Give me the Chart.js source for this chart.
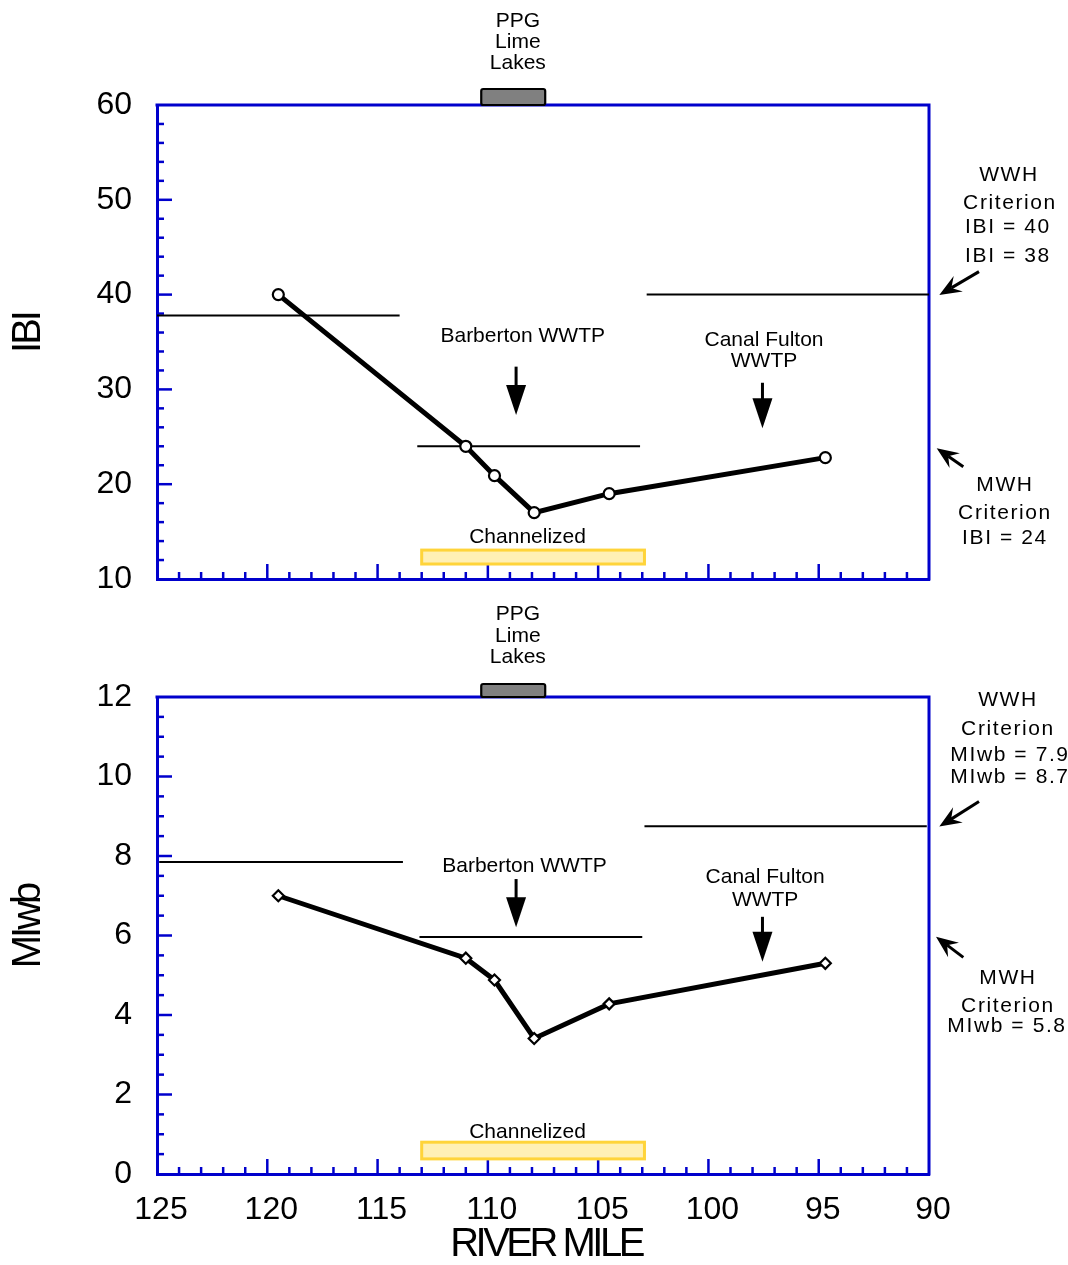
<!DOCTYPE html>
<html><head><meta charset="utf-8">
<script src="https://cdn.jsdelivr.net/npm/chart.js@4.4.1/dist/chart.umd.min.js"></script>
<style>
html,body{margin:0;padding:0;background:#fff;}
#wrap{position:relative;width:1068px;height:1265px;background:#fff;}
canvas{position:absolute;left:0;}
#c1{top:0;}
#c2{top:600px;}
</style></head><body>
<div id="wrap"><canvas id="c1" width="1068" height="600"></canvas><canvas id="c2" width="1068" height="665"></canvas></div>
<script>
// ---------- data ----------
const riverMile = [119.5, 111.0, 109.7, 107.9, 104.5, 94.7];
const ibiValues = [40, 24, 20.9, 17, 19, 22.8];
const miwbValues = [7.0, 5.43, 4.88, 3.41, 4.28, 5.3];
const xTickValues = [125, 120, 115, 110, 105, 100, 95, 90];
const ibiTickValues = [10, 20, 30, 40, 50, 60];
const miwbTickValues = [0, 2, 4, 6, 8, 10, 12];
// criterion segments: [start mile, end mile, value]
const ibiWwhUpstream = [125, 114.0, 37.8];
const ibiMwh = [113.2, 103.1, 24];
const ibiWwhDownstream = [102.8, 90, 40];
const miwbWwhUpstream = [124.9, 113.85, 7.85];
const miwbMwh = [113.1, 103.0, 5.96];
const miwbWwhDownstream = [102.9, 90.1, 8.75];
const channelizedReach = [113.0, 102.9];
const ppgLimeLakesReach = [110.3, 107.4];
const barbertonMile = 108.72;
const canalFultonMile = 97.55;

const BLUE = '#0000CC';
const FAMILY = '"Liberation Sans", Arial, Helvetica, sans-serif';

// ---------- plugins ----------
const titleSpacing = {
  id: 'titleSpacing',
  beforeDraw(chart, args, o) {
    Object.values(chart.scales).forEach(s => {
      if (s._tsWrapped) return;
      s._tsWrapped = true;
      const orig = s.drawTitle.bind(s);
      const cfg = (o && o[s.id]) || {spacing: 0, shift: 0};
      s.drawTitle = function () {
        const ctx = this.ctx;
        ctx.save();
        ctx.letterSpacing = cfg.spacing + 'px';
        if (this.isHorizontal()) ctx.translate(cfg.shift, 0); else ctx.translate(0, cfg.shift);
        orig();
        ctx.restore();
      };
    });
  }
};

const axisFrame = {
  id: 'axisFrame',
  beforeDatasetsDraw(chart, args, o) {
    const {ctx, chartArea: a, scales: {x, y}} = chart;
    ctx.save();
    ctx.strokeStyle = BLUE;
    ctx.lineWidth = 3;
    ctx.beginPath();
    ctx.moveTo(a.left - 1.5, a.top);
    ctx.lineTo(a.right, a.top);
    ctx.lineTo(a.right, a.bottom + 1.5);
    ctx.stroke();
    ctx.lineWidth = 2.5;
    const nx = Math.round((x.max - x.min) / o.xMinor);
    for (let i = 1; i < nx; i++) {
      const v = x.min + i * o.xMinor;
      const major = Math.abs(v / o.xMajor - Math.round(v / o.xMajor)) < 1e-6;
      const p = x.getPixelForValue(v);
      ctx.beginPath();
      ctx.moveTo(p, a.bottom);
      ctx.lineTo(p, a.bottom - (major ? 15 : 7));
      ctx.stroke();
    }
    const ny = Math.round((y.max - y.min) / o.yMinor);
    for (let i = 1; i < ny; i++) {
      const v = y.min + i * o.yMinor;
      const major = Math.abs(v / o.yMajor - Math.round(v / o.yMajor)) < 1e-6;
      const p = y.getPixelForValue(v);
      ctx.beginPath();
      ctx.moveTo(a.left, p);
      ctx.lineTo(a.left + (major ? 15 : 7), p);
      ctx.stroke();
    }
    ctx.restore();
  }
};

function drawStealth(ctx, x1, y1, x2, y2) {
  const dx = x2 - x1, dy = y2 - y1, L = Math.hypot(dx, dy);
  const ux = dx / L, uy = dy / L, nxp = -uy, nyp = ux;
  const hl = 22, hw = 9, notch = 14;
  ctx.beginPath();
  ctx.moveTo(x1, y1);
  ctx.lineTo(x2 - ux * notch, y2 - uy * notch);
  ctx.lineWidth = 3;
  ctx.stroke();
  ctx.beginPath();
  ctx.moveTo(x2, y2);
  ctx.lineTo(x2 - ux * hl + nxp * hw, y2 - uy * hl + nyp * hw);
  ctx.lineTo(x2 - ux * notch, y2 - uy * notch);
  ctx.lineTo(x2 - ux * hl - nxp * hw, y2 - uy * hl - nyp * hw);
  ctx.closePath();
  ctx.fill();
}

function drawDownArrow(ctx, x, yTop, yTip) {
  const head = 30, hw = 10;
  ctx.beginPath();
  ctx.moveTo(x, yTop);
  ctx.lineTo(x, yTip - head + 2);
  ctx.lineWidth = 3;
  ctx.stroke();
  ctx.beginPath();
  ctx.moveTo(x - hw, yTip - head);
  ctx.lineTo(x + hw, yTip - head);
  ctx.lineTo(x, yTip);
  ctx.closePath();
  ctx.fill();
}

const annot = {
  id: 'annot',
  beforeDatasetsDraw(chart, args, o) {
    const {ctx, chartArea: a} = chart;
    const X = v => chart.scales.x.getPixelForValue(v), Y = v => chart.scales.y.getPixelForValue(v);
    ctx.save();
    const cx1 = X(channelizedReach[0]), cx2 = X(channelizedReach[1]);
    const cy1 = Y(o.channelY[1]), cy2 = Y(o.channelY[0]);
    ctx.fillStyle = '#FFF0B5';
    ctx.strokeStyle = '#FFD43A';
    ctx.lineWidth = 3;
    ctx.fillRect(cx1, cy1, cx2 - cx1, cy2 - cy1);
    ctx.strokeRect(cx1, cy1, cx2 - cx1, cy2 - cy1);
    const px1 = X(ppgLimeLakesReach[0]), px2 = X(ppgLimeLakesReach[1]);
    ctx.fillStyle = '#808080';
    ctx.strokeStyle = '#000';
    ctx.lineWidth = 2.2;
    ctx.beginPath();
    if (ctx.roundRect) ctx.roundRect(px1, a.top - o.ppgBoxH, px2 - px1, o.ppgBoxH, 2);
    else ctx.rect(px1, a.top - o.ppgBoxH, px2 - px1, o.ppgBoxH);
    ctx.fill();
    ctx.stroke();
    ctx.restore();
  },
  afterDatasetsDraw(chart, args, o) {
    const {ctx, chartArea: a} = chart;
    const X = v => chart.scales.x.getPixelForValue(v), Y = v => chart.scales.y.getPixelForValue(v);
    ctx.save();
    ctx.fillStyle = '#000';
    ctx.strokeStyle = '#000';
    ctx.textAlign = 'center';
    ctx.textBaseline = 'middle';
    ctx.font = '21px ' + FAMILY;
    ctx.fillText('Channelized', X(o.channelLabel[0]), Y(o.channelLabel[1]));
    o.ppgLines.forEach((t, i) => ctx.fillText(t, X(o.ppgX), a.top + o.ppgOffsets[i]));
    ctx.fillText('Barberton WWTP', X(o.barb.textX), Y(o.barb.textY));
    drawDownArrow(ctx, X(barbertonMile), Y(o.barb.top), Y(o.barb.tip));
    ctx.fillText('Canal Fulton', X(o.canal.textX), Y(o.canal.textY[0]));
    ctx.fillText('WWTP', X(o.canal.textX), Y(o.canal.textY[1]));
    drawDownArrow(ctx, X(canalFultonMile), Y(o.canal.top), Y(o.canal.tip));
    ctx.letterSpacing = '1.6px';
    o.rightLabels.forEach(l => ctx.fillText(l.t, a.right + l.dx, Y(l.y)));
    ctx.letterSpacing = '0px';
    o.rightArrows.forEach(r => drawStealth(ctx, a.right + r.tail[0], Y(r.tail[1]), a.right + r.tip[0], Y(r.tip[1])));
    ctx.restore();
  }
};

// ---------- chart builder ----------
function buildChart(id, cfg) {
  const tickFont = {family: FAMILY, size: 32};
  const titleFont = {family: FAMILY, size: 40, lineHeight: 1};
  const mainData = riverMile.map((m, i) => ({x: m, y: cfg.values[i]}));
  const segDatasets = cfg.segments.map((s, i) => ({
    label: cfg.name + ' criterion ' + (i + 1),
    data: [{x: s[0], y: s[2]}, {x: s[1], y: s[2]}],
    borderColor: '#000', borderWidth: 2, pointRadius: 0, order: 2
  }));
  return new Chart(document.getElementById(id), {
    type: 'line',
    data: {
      datasets: [{
        label: cfg.name,
        data: mainData,
        borderColor: '#000',
        borderWidth: 5,
        pointStyle: cfg.pointStyle,
        pointRadius: cfg.pointRadius,
        pointBorderWidth: 2.2,
        pointBackgroundColor: '#fff',
        pointBorderColor: '#000',
        tension: 0,
        order: 0
      }, ...segDatasets]
    },
    options: {
      responsive: false,
      animation: false,
      events: [],
      layout: {padding: {top: cfg.padTop, right: 139, bottom: 0, left: 0}},
      plugins: {
        legend: {display: false},
        tooltip: {enabled: false},
        titleSpacing: {x: {spacing: -3.5, shift: 3}, y: {spacing: -3, shift: -9}},
        axisFrame: {xMinor: 1, xMajor: 5, yMinor: cfg.yMinor, yMajor: cfg.yMajor},
        annot: cfg.annot
      },
      scales: {
        x: {
          type: 'linear', reverse: true, min: 90, max: 125,
          grid: {display: false},
          border: {display: true, color: BLUE, width: 3},
          ticks: {display: cfg.showX, font: tickFont, color: '#000', padding: 9, labelOffset: 4, autoSkip: false, maxRotation: 0},
          afterBuildTicks: s => { s.ticks = xTickValues.map(v => ({value: v})); },
          afterFit: s => { s.height = cfg.xHeight; },
          title: {display: cfg.showX, text: 'RIVER MILE', font: titleFont, color: '#000', padding: {top: 0, bottom: 0}}
        },
        y: {
          type: 'linear', min: cfg.yMin, max: cfg.yMax,
          grid: {display: false},
          border: {display: true, color: BLUE, width: 3},
          ticks: {font: tickFont, color: '#000', padding: 17, autoSkip: false},
          afterBuildTicks: s => { s.ticks = cfg.yTicks.map(v => ({value: v})); },
          afterFit: s => { s.width = 157; s.paddingTop = 0; s.paddingBottom = 0; },
          title: {display: true, text: cfg.name, font: titleFont, color: '#000', padding: {top: 9, bottom: 0}}
        }
      }
    },
    plugins: [titleSpacing, axisFrame, annot]
  });
}

buildChart('c1', {
  name: 'IBI', values: ibiValues, yTicks: ibiTickValues, yMin: 10, yMax: 60, yMinor: 2, yMajor: 10,
  segments: [ibiWwhUpstream, ibiMwh, ibiWwhDownstream],
  pointStyle: 'circle', pointRadius: 5.5,
  padTop: 105, xHeight: 21, showX: false,
  annot: {
    channelY: [11.58, 13.05], channelLabel: [108.2, 14.4],
    ppgBoxH: 16, ppgX: 108.64, ppgLines: ['PPG', 'Lime', 'Lakes'], ppgOffsets: [-84, -63, -42],
    barb: {textX: 108.42, textY: 35.56, top: 32.4, tip: 27.3},
    canal: {textX: 97.48, textY: [35.21, 33.0], top: 30.7, tip: 25.9},
    rightLabels: [
      {t: 'WWH', dx: 80, y: 52.6}, {t: 'Criterion', dx: 81, y: 49.6},
      {t: 'IBI = 40', dx: 79, y: 47.1}, {t: 'IBI = 38', dx: 79, y: 44.0},
      {t: 'MWH', dx: 76, y: 19.9}, {t: 'Criterion', dx: 76, y: 16.9}, {t: 'IBI = 24', dx: 76, y: 14.3}
    ],
    rightArrows: [
      {tail: [50, 42.42], tip: [10.3, 39.96]},
      {tail: [34.3, 21.85], tip: [7.7, 23.8]}
    ]
  }
});

buildChart('c2', {
  name: 'MIwb', values: miwbValues, yTicks: miwbTickValues, yMin: 0, yMax: 12, yMinor: 0.5, yMajor: 2,
  segments: [miwbWwhUpstream, miwbMwh, miwbWwhDownstream],
  pointStyle: 'rectRot', pointRadius: 5.5,
  padTop: 97, xHeight: 91, showX: true,
  annot: {
    channelY: [0.38, 0.8], channelLabel: [108.2, 1.06],
    ppgBoxH: 13, ppgX: 108.64, ppgLines: ['PPG', 'Lime', 'Lakes'], ppgOffsets: [-83, -61, -40],
    barb: {textX: 108.34, textY: 7.75, top: 7.42, tip: 6.21},
    canal: {textX: 97.43, textY: [7.47, 6.88], top: 6.47, tip: 5.34},
    rightLabels: [
      {t: 'WWH', dx: 79, y: 11.91}, {t: 'Criterion', dx: 79, y: 11.2},
      {t: 'MIwb = 7.9', dx: 81, y: 10.54}, {t: 'MIwb = 8.7', dx: 81, y: 9.99},
      {t: 'MWH', dx: 79, y: 4.93}, {t: 'Criterion', dx: 79, y: 4.21}, {t: 'MIwb = 5.8', dx: 78, y: 3.71}
    ],
    rightArrows: [
      {tail: [50, 9.37], tip: [10.3, 8.74]},
      {tail: [34.3, 5.45], tip: [7, 5.97]}
    ]
  }
});
</script>
</body></html>
